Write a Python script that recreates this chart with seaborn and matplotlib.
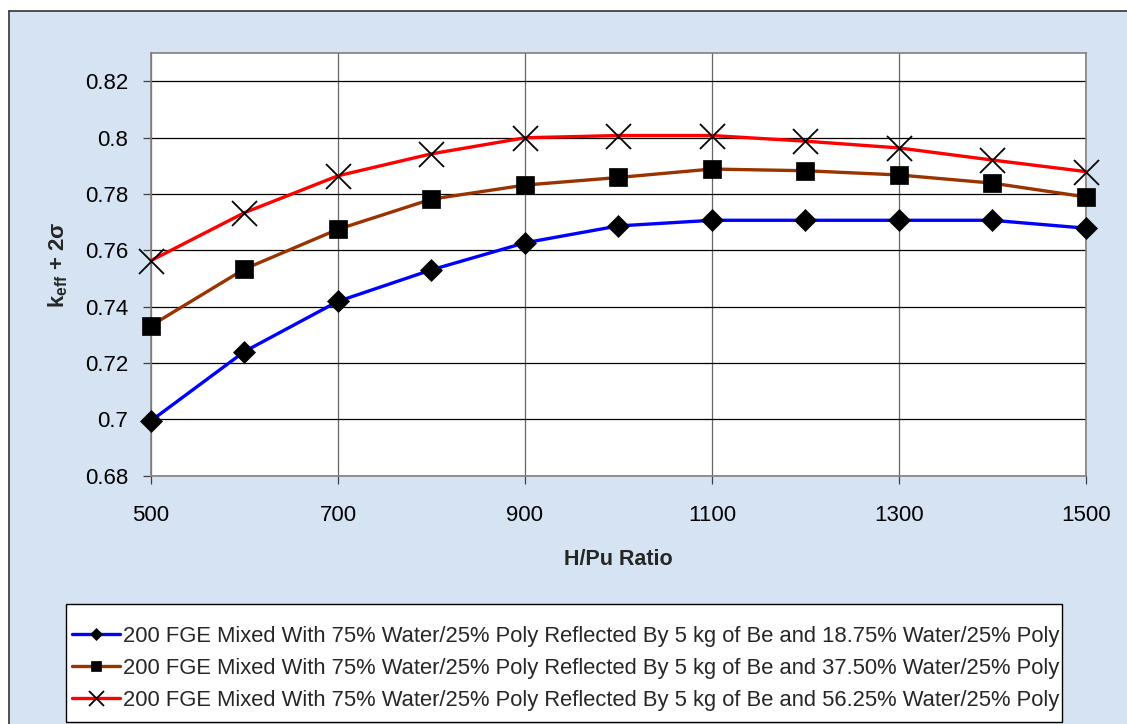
import numpy as np
import pandas as pd
import matplotlib
matplotlib.use("Agg")
import matplotlib.pyplot as plt
from matplotlib.patches import Rectangle
from matplotlib.lines import Line2D
from matplotlib.ticker import FixedLocator, FuncFormatter
import seaborn as sns

# ---- data ----
h_pu = [500, 600, 700, 800, 900, 1000, 1100, 1200, 1300, 1400, 1500]
keff_1875 = [0.6995, 0.7241, 0.7419, 0.7531, 0.7627, 0.7687, 0.7707, 0.7707, 0.7707, 0.7707, 0.7679]
keff_3750 = [0.7333, 0.7534, 0.7675, 0.7782, 0.7832, 0.7859, 0.7889, 0.7883, 0.7868, 0.7839, 0.7790]
keff_5625 = [0.7564, 0.7734, 0.7865, 0.7943, 0.8000, 0.8008, 0.8008, 0.7988, 0.7964, 0.7921, 0.7880]
labels = [
    "200 FGE Mixed With 75% Water/25% Poly Reflected By 5 kg of Be and 18.75% Water/25% Poly",
    "200 FGE Mixed With 75% Water/25% Poly Reflected By 5 kg of Be and 37.50% Water/25% Poly",
    "200 FGE Mixed With 75% Water/25% Poly Reflected By 5 kg of Be and 56.25% Water/25% Poly",
]
x_ticks = [500, 700, 900, 1100, 1300, 1500]
y_ticks = [0.68, 0.70, 0.72, 0.74, 0.76, 0.78, 0.80, 0.82]

sns.set_theme(style="white")
plt.rcParams["font.family"] = ["Liberation Sans", "DejaVu Sans"]
plt.rcParams["mathtext.fontset"] = "custom"
plt.rcParams["mathtext.bf"] = "Liberation Sans:bold"
plt.rcParams["mathtext.rm"] = "Liberation Sans"

W, H = 1127, 724
fig = plt.figure(figsize=(W / 100, H / 100), dpi=100, facecolor="white")

# chart-area background with dark frame on left/top (rest cropped off)
fig.patches.append(Rectangle((9 / W, 0), 1.0, 1 - 11 / H, transform=fig.transFigure,
                             facecolor="#d6e3f2", edgecolor="none", zorder=-10))
fig.lines.append(Line2D([9 / W, 9 / W], [0, 1 - 11 / H], transform=fig.transFigure,
                        color="#333333", lw=1.2, zorder=-9))
fig.lines.append(Line2D([9 / W, 1], [1 - 11 / H, 1 - 11 / H], transform=fig.transFigure,
                        color="#333333", lw=1.2, zorder=-9))

ax = fig.add_axes([151 / W, 1 - 475.7 / H, (1085.7 - 151) / W, (475.7 - 53.3) / H])
ax.set_facecolor("white")

series = [
    (keff_1875, "#0000ff", "D", 11, labels[0]),
    (keff_3750, "#993300", "s", 13, labels[1]),
    (keff_5625, "#ff0000", "x", 18, labels[2]),
]
for vals, col, mk, ms, lab in series:
    df = pd.DataFrame({"H/Pu": h_pu, "keff": vals})
    sns.lineplot(data=df, x="H/Pu", y="keff", ax=ax, color=col, lw=2.4,
                 marker=mk, markersize=ms, markerfacecolor="black",
                 markeredgecolor="black", markeredgewidth=1.3 if mk == "x" else 0.5,
                 label=lab, zorder=3, clip_on=False)

ax.set_xlim(500, 1500)
ax.set_ylim(0.68, 0.83)
ax.xaxis.set_major_locator(FixedLocator(x_ticks))
ax.yaxis.set_major_locator(FixedLocator(y_ticks))
ax.yaxis.set_major_formatter(FuncFormatter(lambda v, p: f"{v:g}"))
ax.xaxis.set_major_formatter(FuncFormatter(lambda v, p: f"{v:g}"))
ax.grid(axis="y", color="black", lw=0.9)
ax.grid(axis="x", color="#666666", lw=0.9)
ax.set_axisbelow(True)
for s in ax.spines.values():
    s.set_color("#808080")
    s.set_linewidth(1.2)
ax.tick_params(axis="both", which="major", direction="out", length=6, width=0.9,
               color="#404040", labelsize=16, labelcolor="black",
               left=True, bottom=True)
ax.tick_params(axis="y", pad=10.5)
ax.tick_params(axis="x", pad=15)

ax.set_xlabel("H/Pu Ratio", fontsize=15.5, fontweight="bold", labelpad=16.5)
ax.set_ylabel(r"k$_{\mathbf{eff}}$ + 2σ", fontsize=16, fontweight="bold", labelpad=11)

ax.get_legend().remove()
handles, labs = ax.get_legend_handles_labels()

# legend frame
fig.patches.append(Rectangle((66 / W, 1 - 722 / H), (1062 - 66) / W, (722 - 604) / H,
                             transform=fig.transFigure, facecolor="white",
                             edgecolor="black", lw=1.0, zorder=5))
leg = fig.legend(handles, labs, loc="upper left", bbox_to_anchor=(72 / W, 1 - 626 / H),
                 bbox_transform=fig.transFigure, borderaxespad=0, fontsize=15.85,
                 frameon=False, markerscale=0.6, handlelength=2.2, handletextpad=0.12,
                 labelspacing=0.5, borderpad=0)
leg.set_zorder(6)

fig.savefig("out.png", dpi=100, facecolor=fig.get_facecolor())
